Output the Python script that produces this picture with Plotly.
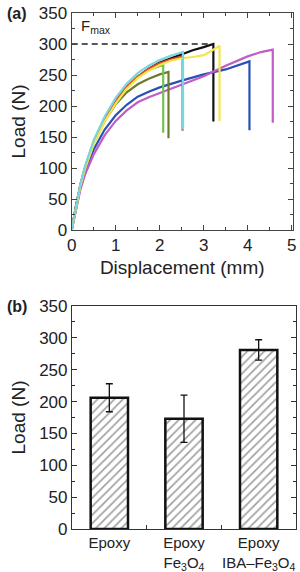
import plotly.graph_objects as go

# ---------- Panel (a): load-displacement curves ----------
disp_cyan = [0, 0.1, 0.2, 0.3, 0.5, 0.75, 1.0, 1.25, 1.5, 1.75, 2.0, 2.25, 2.53, 2.53]
load_cyan = [0, 40, 75, 102, 145, 183, 213, 236, 253, 265, 274, 281, 287, 162]

disp_red = [0, 0.1, 0.2, 0.3, 0.5, 0.75, 1.0, 1.25, 1.5, 1.75, 2.0, 2.25, 2.52, 2.52]
load_red = [0, 40, 74, 100, 142, 179, 208, 231, 247, 260, 269, 275, 280, 160]

disp_green = [0, 0.1, 0.2, 0.3, 0.5, 0.75, 1.0, 1.25, 1.5, 1.75, 2.08, 2.08]
load_green = [0, 40, 74, 101, 143, 181, 210, 232, 248, 258, 266, 157]

disp_yellow = [0, 0.1, 0.2, 0.3, 0.5, 0.75, 1.0, 1.25, 1.5, 1.75, 2.0, 2.25, 2.5, 2.75, 3.0, 3.2, 3.36, 3.36]
load_yellow = [0, 39, 72, 98, 138, 175, 204, 228, 245, 257, 266, 273, 277, 279, 282, 290, 297, 176]

disp_black = [0, 0.1, 0.2, 0.3, 0.5, 0.75, 1.0, 1.25, 1.5, 1.75, 2.0, 2.25, 2.5, 2.75, 3.0, 3.22, 3.22]
load_black = [0, 40, 73, 99, 140, 177, 206, 230, 247, 260, 270, 277, 284, 290, 295, 300, 175]

disp_olive = [0, 0.1, 0.2, 0.3, 0.5, 0.75, 1.0, 1.25, 1.5, 1.75, 2.0, 2.2, 2.2]
load_olive = [0, 40, 73, 99, 141, 176, 203, 222, 235, 244, 251, 255, 148]

disp_blue = [0, 0.1, 0.2, 0.3, 0.5, 0.75, 1.0, 1.25, 1.5, 1.75, 2.0, 2.5, 3.0, 3.5, 3.8, 4.04, 4.04]
load_blue = [0, 38, 70, 94, 130, 162, 185, 202, 215, 223, 230, 241, 251, 259, 266, 272, 161]

disp_magenta = [0, 0.1, 0.2, 0.3, 0.5, 0.75, 1.0, 1.25, 1.5, 1.75, 2.0, 2.5, 3.0, 3.5, 4.0, 4.3, 4.57, 4.57]
load_magenta = [0, 36, 66, 89, 122, 153, 176, 193, 206, 214, 221, 234, 248, 265, 280, 287, 291, 173]

f_max = 300
f_max_disp = 3.22

# ---------- Panel (b): bar chart ----------
categories = ["Epoxy", "Epoxy<br>Fe<sub>3</sub>O<sub>4</sub>", "Epoxy<br>IBA–Fe<sub>3</sub>O<sub>4</sub>"]
mean_load = [206, 173, 281]
err_load = [22, 37, 16]

curves = [
    (disp_black, load_black, "#111111"),
    (disp_blue, load_blue, "#2a50b6"),
    (disp_magenta, load_magenta, "#c25cc6"),
    (disp_olive, load_olive, "#6c7b2c"),
    (disp_green, load_green, "#74c24e"),
    (disp_red, load_red, "#e5482a"),
    (disp_yellow, load_yellow, "#f3e54a"),
    (disp_cyan, load_cyan, "#78d6de"),
]

fig = go.Figure()
for xs, ys, c in curves:
    fig.add_trace(go.Scatter(x=xs, y=ys, mode="lines", line=dict(color=c, width=2.2),
                             xaxis="x", yaxis="y", showlegend=False, hoverinfo="skip"))

fig.add_trace(go.Scatter(x=[0, f_max_disp], y=[f_max, f_max], mode="lines",
                         line=dict(color="#222", width=1.6, dash="6px,4px"),
                         xaxis="x", yaxis="y", showlegend=False))

fig.add_trace(go.Bar(x=categories, y=mean_load, xaxis="x2", yaxis="y2",
                     width=0.5, showlegend=False,
                     marker=dict(color="white", line=dict(color="#111", width=2.5),
                                 pattern=dict(shape="/", fgcolor="#444", bgcolor="white",
                                              size=6, solidity=0.28)),
                     error_y=dict(type="data", array=err_load, color="#111",
                                  thickness=1.3, width=3.5)))

font_family = "Liberation Sans, Arial, sans-serif"
axis_common = dict(showline=True, linecolor="#444", linewidth=1, mirror="ticks",
                   ticks="inside", ticklen=5, tickcolor="#444", showgrid=False,
                   zeroline=False, automargin=False,
                   tickfont=dict(size=17, color="#222", family=font_family))

fig.update_layout(
    width=300, height=572, margin=dict(l=0, r=0, t=0, b=0),
    paper_bgcolor="white", plot_bgcolor="white",
    xaxis=dict(domain=[71.5 / 300, 293 / 300], range=[-0.005, 5.03], anchor="y",
               tickvals=[0, 1, 2, 3, 4, 5], tickangle=0,
               minor=dict(dtick=0.5, ticks="inside", ticklen=3, tickcolor="#444"),
               title=dict(text="Displacement (mm)", font=dict(size=19, color="#222", family=font_family), standoff=6),
               **axis_common),
    yaxis=dict(domain=[1 - 230 / 572, 1 - 13 / 572], range=[0, 350], anchor="x",
               tickvals=[0, 50, 100, 150, 200, 250, 300, 350],
               minor=dict(dtick=25, ticks="inside", ticklen=3, tickcolor="#444"),
               title=dict(text="Load (N)", font=dict(size=19, color="#222", family=font_family), standoff=8),
               **axis_common),
    xaxis2=dict(domain=[72 / 300, 296 / 300], anchor="y2", type="category",
                showline=True, linecolor="#333", linewidth=1.2, mirror=True,
                ticks="inside", tickson="boundaries", ticklen=4, tickcolor="#333",
                showgrid=False, zeroline=False, automargin=False, tickangle=0,
                tickfont=dict(size=15, color="#222", family=font_family)),
    yaxis2=dict(domain=[1 - 529 / 572, 1 - 306 / 572], range=[0, 350], anchor="x2",
                tickvals=[0, 50, 100, 150, 200, 250, 300, 350],
                minor=dict(dtick=25, ticks="inside", ticklen=3, tickcolor="#333"),
                title=dict(text="Load (N)", font=dict(size=19, color="#222", family=font_family), standoff=8),
                showline=True, linecolor="#333", linewidth=1.2, mirror="ticks",
                ticks="inside", ticklen=5, tickcolor="#333", showgrid=False, zeroline=False,
                automargin=False,
                tickfont=dict(size=17, color="#222", family=font_family)),
    annotations=[
        dict(text="<b>(a)</b>", x=5 / 300, y=1 - 3 / 572, xref="paper", yref="paper",
             xanchor="left", yanchor="top", showarrow=False,
             font=dict(size=16, color="#222", family=font_family)),
        dict(text="<b>(b)</b>", x=5 / 300, y=1 - 296 / 572, xref="paper", yref="paper",
             xanchor="left", yanchor="top", showarrow=False,
             font=dict(size=16, color="#222", family=font_family)),
        dict(text="F<sub>max</sub>", x=0.17, y=328, xref="x", yref="y",
             xanchor="left", yanchor="middle", showarrow=False,
             font=dict(size=15, color="#222", family=font_family)),
    ],
)

fig.write_html("out.html")
